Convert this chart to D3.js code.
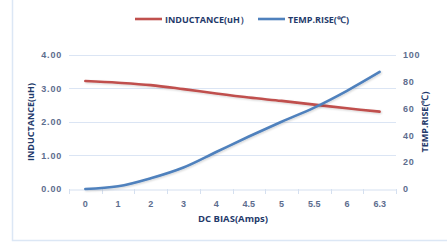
<!DOCTYPE html>
<html><head><meta charset="utf-8">
<script src="https://cdn.jsdelivr.net/npm/d3@7"></script>
<style>body{margin:0;background:#fff;} svg{display:block;font-family:"Open Sans","Liberation Sans",sans-serif;}</style>
</head><body><svg id="c" width="447" height="244"></svg>
<script>
const categories = ["0","1","2","3","4","4.5","5","5.5","6","6.3"];
const inductance = [3.21,3.16,3.09,2.97,2.84,2.72,2.62,2.51,2.40,2.30];
const tempRise = [0,2,8,16,27.5,39,50,60.5,73,87];
const leftTicks = [0,1,2,3,4];
const rightTicks = [0,20,40,60,80,100];
const seriesNames = ["INDUCTANCE(uH）","TEMP.RISE(℃)"];

const svg = d3.select("#c");
const m = {l:69, r:396, t:54.5, b:189};
const x = d3.scaleBand().domain(categories).range([m.l, m.r]);
const yL = d3.scaleLinear().domain([0,4]).range([m.b, m.t]);
const yR = d3.scaleLinear().domain([0,100]).range([m.b, m.t]);
const gridC = "#dbe5f4", tickC = "#5d6d8e", titleC = "#1f3a6b";

// border
svg.append("path").attr("d", `M12.5,0 V240.5 H447`).attr("fill","none").attr("stroke","#dce7f5").attr("stroke-width",1.5);

// gridlines
svg.append("g").selectAll("line").data(leftTicks.slice(1)).join("line")
  .attr("x1",m.l).attr("x2",m.r).attr("y1",d=>Math.round(yL(d))+0.5).attr("y2",d=>Math.round(yL(d))+0.5)
  .attr("stroke",gridC);

// x axis
const xa = svg.append("g").attr("transform",`translate(0,${Math.round(m.b)+0.5})`)
  .call(d3.axisBottom(x).tickSize(0).tickPadding(11));
xa.select(".domain").attr("stroke","#d5e0f0");
xa.selectAll("text").attr("fill",tickC).attr("font-size",9).attr("font-weight","bold");
svg.append("g").selectAll("line").data(d3.range(categories.length+1)).join("line")
  .attr("x1",i=>Math.round(m.l + i*x.step())+0.5).attr("x2",i=>Math.round(m.l + i*x.step())+0.5)
  .attr("y1",m.b).attr("y2",m.b+5).attr("stroke","#d5e0f0");

// left axis
const la = svg.append("g").attr("transform",`translate(${m.l},0)`)
  .call(d3.axisLeft(yL).tickValues(leftTicks).tickFormat(d3.format(".2f")).tickSize(0).tickPadding(7));
la.select(".domain").remove();
la.selectAll("text").attr("fill",tickC).attr("font-size",9).attr("font-weight","bold").attr("letter-spacing","0.8px");

// right axis
const ra = svg.append("g").attr("transform",`translate(${m.r},0)`)
  .call(d3.axisRight(yR).tickValues(rightTicks).tickSize(0).tickPadding(7));
ra.select(".domain").remove();
ra.selectAll("text").attr("fill",tickC).attr("font-size",9).attr("font-weight","bold").attr("letter-spacing","0.8px");

// axis titles
svg.append("text").attr("transform","translate(34,122) rotate(-90)").attr("text-anchor","middle")
  .attr("fill",titleC).attr("font-size",9).attr("font-weight","bold").text("INDUCTANCE(uH)");
svg.append("text").attr("transform","translate(428,122) rotate(-90)").attr("text-anchor","middle")
  .attr("fill",titleC).attr("font-size",9).attr("font-weight","bold").text("TEMP.RISE(℃)");
svg.append("text").attr("x",233).attr("y",222).attr("text-anchor","middle")
  .attr("fill",titleC).attr("font-size",9.5).attr("font-weight","bold").text("DC BIAS(Amps)");

// lines
const cx = c => x(c) + x.bandwidth()/2;
const lineL = d3.line().x((d,i)=>cx(categories[i])).y(d=>yL(d)).curve(d3.curveCatmullRom.alpha(0.5));
const lineR = d3.line().x((d,i)=>cx(categories[i])).y(d=>yR(d)).curve(d3.curveCatmullRom.alpha(0.5));
const defs = svg.append("defs");
defs.append("filter").attr("id","sh").attr("x","-10%").attr("y","-10%").attr("width","120%").attr("height","130%")
  .html('<feGaussianBlur in="SourceAlpha" stdDeviation="1"/><feOffset dx="0.5" dy="1.2"/><feComponentTransfer><feFuncA type="linear" slope="0.18"/></feComponentTransfer><feMerge><feMergeNode/><feMergeNode in="SourceGraphic"/></feMerge>');
svg.append("path").datum(inductance).attr("d",lineL).attr("fill","none").attr("stroke","#c0504d").attr("stroke-width",2.6).attr("stroke-linecap","round").attr("filter","url(#sh)");
svg.append("path").datum(tempRise).attr("d",lineR).attr("fill","none").attr("stroke","#4f81bd").attr("stroke-width",2.6).attr("stroke-linecap","round").attr("filter","url(#sh)");

// legend
const lg = svg.append("g");
const legendItems = [{name:seriesNames[0],color:"#c0504d",x:135},{name:seriesNames[1],color:"#4f81bd",x:258}];
legendItems.forEach(it=>{
  lg.append("line").attr("x1",it.x).attr("x2",it.x+27).attr("y1",19).attr("y2",19).attr("stroke",it.color).attr("stroke-width",2.6);
  lg.append("text").attr("x",it.x+30).attr("y",22.5).attr("fill",titleC).attr("font-size",9).attr("font-weight","bold").text(it.name);
});
</script></body></html>
